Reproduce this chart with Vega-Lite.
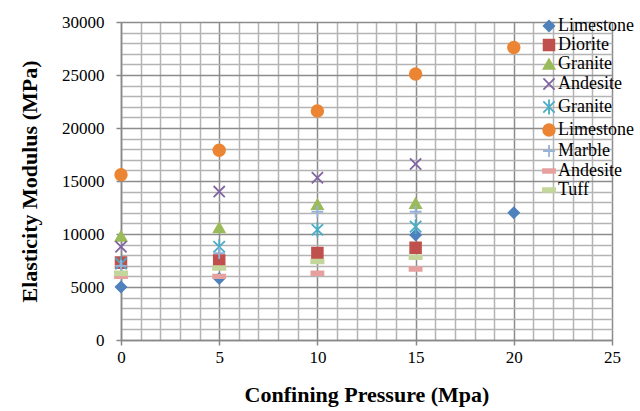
{
  "$schema": "https://vega.github.io/schema/vega-lite/v6.json",
  "width": 491,
  "height": 318,
  "autosize": "none",
  "padding": {"left": 121, "top": 22, "right": 28, "bottom": 71},
  "background": "white",
  "config": {"view": {"stroke": null}, "font": "Liberation Serif"},
  "data": {"values": [
    {"series": 1, "rock": "Limestone", "pressure": 0, "modulus": 5000},
    {"series": 1, "rock": "Limestone", "pressure": 5, "modulus": 5800},
    {"series": 1, "rock": "Limestone", "pressure": 15, "modulus": 9900},
    {"series": 1, "rock": "Limestone", "pressure": 20, "modulus": 12000},
    {"series": 2, "rock": "Diorite", "pressure": 0, "modulus": 7300},
    {"series": 2, "rock": "Diorite", "pressure": 5, "modulus": 7500},
    {"series": 2, "rock": "Diorite", "pressure": 10, "modulus": 8200},
    {"series": 2, "rock": "Diorite", "pressure": 15, "modulus": 8700},
    {"series": 3, "rock": "Granite", "pressure": 0, "modulus": 9800},
    {"series": 3, "rock": "Granite", "pressure": 5, "modulus": 10600},
    {"series": 3, "rock": "Granite", "pressure": 10, "modulus": 12800},
    {"series": 3, "rock": "Granite", "pressure": 15, "modulus": 12900},
    {"series": 4, "rock": "Andesite", "pressure": 0, "modulus": 8800},
    {"series": 4, "rock": "Andesite", "pressure": 5, "modulus": 14000},
    {"series": 4, "rock": "Andesite", "pressure": 10, "modulus": 15300},
    {"series": 4, "rock": "Andesite", "pressure": 15, "modulus": 16600},
    {"series": 5, "rock": "Granite", "pressure": 0, "modulus": 7200},
    {"series": 5, "rock": "Granite", "pressure": 5, "modulus": 8800},
    {"series": 5, "rock": "Granite", "pressure": 10, "modulus": 10400},
    {"series": 5, "rock": "Granite", "pressure": 15, "modulus": 10700},
    {"series": 6, "rock": "Limestone", "pressure": 0, "modulus": 15600},
    {"series": 6, "rock": "Limestone", "pressure": 5, "modulus": 17900},
    {"series": 6, "rock": "Limestone", "pressure": 10, "modulus": 21600},
    {"series": 6, "rock": "Limestone", "pressure": 15, "modulus": 25100},
    {"series": 6, "rock": "Limestone", "pressure": 20, "modulus": 27600},
    {"series": 7, "rock": "Marble", "pressure": 0, "modulus": 7000},
    {"series": 7, "rock": "Marble", "pressure": 5, "modulus": 8200},
    {"series": 7, "rock": "Marble", "pressure": 10, "modulus": 12100},
    {"series": 7, "rock": "Marble", "pressure": 15, "modulus": 12100},
    {"series": 8, "rock": "Andesite", "pressure": 0, "modulus": 6000},
    {"series": 8, "rock": "Andesite", "pressure": 5, "modulus": 6000},
    {"series": 8, "rock": "Andesite", "pressure": 10, "modulus": 6300},
    {"series": 8, "rock": "Andesite", "pressure": 15, "modulus": 6700},
    {"series": 9, "rock": "Tuff", "pressure": 0, "modulus": 6300},
    {"series": 9, "rock": "Tuff", "pressure": 5, "modulus": 6800},
    {"series": 9, "rock": "Tuff", "pressure": 10, "modulus": 7400},
    {"series": 9, "rock": "Tuff", "pressure": 15, "modulus": 7800}
  ]},
  "mark": {"type": "point", "filled": true, "strokeWidth": 1.8, "opacity": 1},
  "encoding": {
    "x": {
      "field": "pressure", "type": "quantitative",
      "scale": {"domain": [0, 25], "nice": false},
      "axis": {
        "values": [0,1,2,3,4,5,6,7,8,9,10,11,12,13,14,15,16,17,18,19,20,21,22,23,24,25],
        "labelExpr": "datum.value % 5 === 0 ? datum.label : ''",
        "title": "Confining Pressure (Mpa)",
        "titleFont": "Liberation Serif", "titleFontSize": 22, "titleFontWeight": "bold", "titleColor": "black",
        "titlePadding": 19,
        "labelFont": "Liberation Serif", "labelFontSize": 17, "labelColor": "black", "labelPadding": 4,
        "labelFlush": false, "labelOverlap": false,
        "domainColor": "#888888", "domainWidth": 1.5,
        "tickSize": 5, "tickColor": "#888888", "tickWidth": 1.5,
        "tickOpacity": {"condition": {"test": "datum.value % 5 === 0", "value": 1}, "value": 0},
        "grid": true,
        "gridColor": {"condition": {"test": "datum.value % 5 === 0", "value": "#8c8c8c"}, "value": "#b4b4b4"},
        "gridWidth": 1.5
      }
    },
    "y": {
      "field": "modulus", "type": "quantitative",
      "scale": {"domain": [0, 30000], "nice": false},
      "axis": {
        "values": [0,1000,2000,3000,4000,5000,6000,7000,8000,9000,10000,11000,12000,13000,14000,15000,16000,17000,18000,19000,20000,21000,22000,23000,24000,25000,26000,27000,28000,29000,30000],
        "format": "d",
        "labelExpr": "datum.value % 5000 === 0 ? datum.label : ''",
        "title": "Elasticity Modulus (MPa)",
        "titleFont": "Liberation Serif", "titleFontSize": 22, "titleFontWeight": "bold", "titleColor": "black",
        "titlePadding": 20,
        "labelFont": "Liberation Serif", "labelFontSize": 17, "labelColor": "black", "labelPadding": 12,
        "labelFlush": false, "labelOverlap": false,
        "domainColor": "#888888", "domainWidth": 1.5,
        "tickSize": 5, "tickColor": "#888888", "tickWidth": 1.5,
        "tickOpacity": {"condition": {"test": "datum.value % 5000 === 0", "value": 1}, "value": 0},
        "grid": true,
        "gridColor": {"condition": {"test": "datum.value % 5000 === 0", "value": "#8c8c8c"}, "value": "#b4b4b4"},
        "gridWidth": 1.5
      }
    },
    "color": {
      "field": "series", "type": "nominal",
      "scale": {"domain": [1,2,3,4,5,6,7,8,9], "range": ["#4F81BD", "#C0504D", "#9BBB59", "#8064A2", "#4BACC6", "#EC8533", "#95B3D7", "#E6A09E", "#C3D69B"]},
      "legend": {
        "title": null, "orient": "none", "legendX": 419, "legendY": -5,
        "labelExpr": "['Limestone','Diorite','Granite','Andesite','Granite','Limestone','Marble','Andesite','Tuff'][datum.value - 1]",
        "labelFont": "Liberation Serif", "labelFontSize": 18, "labelColor": "black", "labelLimit": 200,
        "rowPadding": 1, "padding": 0, "labelOffset": 0, "symbolStrokeWidth": 1.8
      }
    },
    "stroke": {
      "field": "series", "type": "nominal",
      "scale": {"domain": [1,2,3,4,5,6,7,8,9], "range": ["#4F81BD", "#C0504D", "#9BBB59", "#8064A2", "#4BACC6", "#EC8533", "#95B3D7", "#E6A09E", "#C3D69B"]}
    },
    "shape": {
      "field": "series", "type": "nominal",
      "scale": {"domain": [1,2,3,4,5,6,7,8,9], "range": ["diamond", "square", "triangle-up", "M-1,-1L1,1M-1,1L1,-1", "M-1,-1L1,1M-1,1L1,-1M0,-1.3L0,1.3", "circle", "M-1,0L1,0M0,-1L0,1", "M-1,-0.3L1,-0.3L1,0.3L-1,0.3Z", "M-1,-0.3L1,-0.3L1,0.3L-1,0.3Z"]}
    },
    "size": {
      "field": "series", "type": "nominal",
      "scale": {"domain": [1,2,3,4,5,6,7,8,9], "range": [110, 150, 170, 130, 130, 230, 150, 80, 140]}
    }
  }
}
